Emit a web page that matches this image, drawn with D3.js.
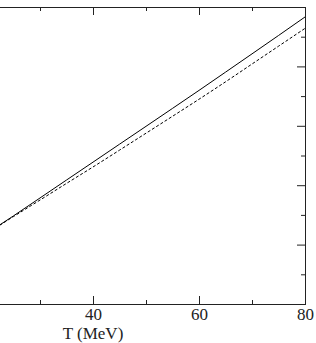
<!DOCTYPE html>
<html>
<head>
<meta charset="utf-8">
<script src="https://cdn.jsdelivr.net/npm/d3@7"></script>
<style>
  html, body { margin: 0; padding: 0; background: #fff; }
  svg { display: block; }
</style>
</head>
<body>
<svg id="chart" width="316" height="343"></svg>
<script>
// temperature grid (MeV)
const temps = [20, 25, 30, 35, 40, 45, 50, 55, 60, 65, 70, 75, 80]
// solid curve
const solidVals = [1.19, 1.484, 1.785, 2.087, 2.388, 2.69, 2.991, 3.293, 3.596, 3.903, 4.211, 4.52, 4.832]
// dashed curve
const dashedVals = [1.19, 1.472, 1.75, 2.03, 2.307, 2.59, 2.875, 3.16, 3.447, 3.74, 4.04, 4.34, 4.64]

const xMajor = [0, 20, 40, 60, 80]
const xMinor = [10, 30, 50, 70]
const xLabeled = [40, 60, 80]
const yMajor = [0, 1, 2, 3, 4, 5]
const yMinor = [0.5, 1.5, 2.5, 3.5, 4.5]
const xTitle = 'T (MeV)'

// plot box: the left part lies outside the window (cropped figure)
const boxLeft = -119, boxRight = 305, boxTop = 7, boxBottom = 304
const svg = d3.select('#chart')
const serif = '"Liberation Serif", "Times New Roman", serif'

let x = d3.scaleLinear().domain([0, 80]).range([boxLeft, boxRight])
let y = d3.scaleLinear().domain([0, 5]).range([boxBottom, boxTop])

let ink = '#222'

function styleAxis(g) {
  g.select('.domain').remove()
  g.selectAll('line').attr('stroke', ink).attr('stroke-width', 1)
  g.selectAll('text')
    .attr('fill', ink)
    .style('font-family', serif)
    .style('font-size', '17px')
}

// bottom axis, ticks point inward
svg.append('g')
  .attr('transform', `translate(0,${boxBottom})`)
  .call(d3.axisBottom(x).tickValues(xMajor).tickSize(-8).tickPadding(4)
    .tickFormat(d => xLabeled.includes(d) ? d : ''))
  .call(styleAxis)
svg.append('g')
  .attr('transform', `translate(0,${boxBottom})`)
  .call(d3.axisBottom(x).tickValues(xMinor).tickSize(-4).tickFormat(''))
  .call(styleAxis)

// top axis
svg.append('g')
  .attr('transform', `translate(0,${boxTop})`)
  .call(d3.axisTop(x).tickValues(xMajor).tickSize(-8).tickFormat(''))
  .call(styleAxis)
svg.append('g')
  .attr('transform', `translate(0,${boxTop})`)
  .call(d3.axisTop(x).tickValues(xMinor).tickSize(-4).tickFormat(''))
  .call(styleAxis)

// right axis
svg.append('g')
  .attr('transform', `translate(${boxRight},0)`)
  .call(d3.axisRight(y).tickValues(yMajor).tickSize(-8).tickFormat(''))
  .call(styleAxis)
svg.append('g')
  .attr('transform', `translate(${boxRight},0)`)
  .call(d3.axisRight(y).tickValues(yMinor).tickSize(-4).tickFormat(''))
  .call(styleAxis)

// frame
svg.append('rect')
  .attr('x', boxLeft + 0.5)
  .attr('y', boxTop + 0.5)
  .attr('width', boxRight - boxLeft)
  .attr('height', boxBottom - boxTop)
  .attr('fill', 'none')
  .attr('stroke', ink)
  .attr('stroke-width', 1)

let line = d3.line()
  .x((d, i) => x(temps[i]))
  .y(d => y(d))
  .curve(d3.curveMonotoneX)

svg.append('path')
  .datum(solidVals)
  .attr('d', line)
  .attr('fill', 'none')
  .attr('stroke', '#000')
  .attr('stroke-width', 1)

svg.append('path')
  .datum(dashedVals)
  .attr('d', line)
  .attr('fill', 'none')
  .attr('stroke', '#000')
  .attr('stroke-width', 1)
  .attr('stroke-dasharray', '3,2')

svg.append('text')
  .attr('x', (boxLeft + boxRight) / 2)
  .attr('y', 339)
  .attr('text-anchor', 'middle')
  .attr('fill', ink)
  .style('font-family', serif)
  .style('font-size', '17px')
  .text(xTitle)
</script>
</body>
</html>
